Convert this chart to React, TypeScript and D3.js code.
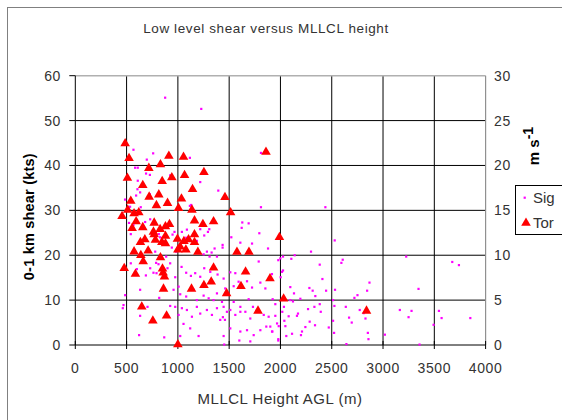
import React from 'react';
import * as d3 from 'd3';

const chartTitle = 'Low level shear versus MLLCL height';
const xTitle = 'MLLCL Height AGL (m)';
const yTitle = '0-1 km shear (kts)';
const xTicks = [0, 500, 1000, 1500, 2000, 2500, 3000, 3500, 4000];
const yTicks = [0, 10, 20, 30, 40, 50, 60];
const y2Ticks = [0, 5, 10, 15, 20, 25, 30];
const seriesNames = ['Sig', 'Tor'];

// [MLLCL height (m), 0-1 km shear (kts)]
const sigData: [number, number][] = [
  [876, 55.1], [1228, 52.6], [567, 43.5], [759, 42.7], [697, 41.3], [1117, 41.7], [583, 39.5], [609, 39.5],
  [690, 38.2], [727, 37.9], [925, 37.8], [609, 36.6], [1218, 36.3], [606, 34.7], [632, 34.0], [593, 33.3],
  [1394, 34.4], [727, 33.6], [1810, 42.8], [485, 32.4], [534, 30.8], [638, 30.7], [1117, 31.0], [1130, 31.2],
  [1810, 30.7],
  [567, 26.7], [524, 27.2], [541, 24.7], [681, 27.4], [730, 28.0], [814, 24.7], [827, 24.0], [948, 24.6],
  [967, 25.2], [1039, 25.2], [1088, 25.7], [1081, 23.9], [1185, 23.2], [1218, 25.8], [1293, 25.2], [1257, 24.4],
  [1306, 25.8], [1628, 27.3], [1690, 27.1], [1622, 26.1], [1521, 24.0], [1609, 22.8], [1723, 22.6], [1794, 24.9],
  [1879, 21.5], [1436, 22.3], [1436, 21.7], [1358, 21.5], [1329, 20.6], [1283, 20.8], [1381, 19.7], [1309, 19.7],
  [1251, 20.2], [941, 21.7], [981, 20.8], [886, 19.7], [779, 20.8], [788, 18.3], [811, 18.0], [626, 20.0],
  [541, 18.2], [600, 16.9], [688, 15.5], [730, 17.1], [762, 16.1], [792, 16.0], [899, 17.1], [925, 18.2],
  [974, 15.1], [1036, 17.4], [1081, 16.1], [1127, 15.4], [1169, 16.0], [1218, 15.2], [1257, 17.1], [1316, 16.3],
  [1387, 15.7], [1446, 14.8], [1462, 12.6], [1511, 16.2], [1560, 16.0], [1592, 14.1], [1544, 13.1], [1674, 14.2],
  [1723, 12.8], [1788, 18.6], [1804, 13.9], [1853, 12.6], [1924, 10.2], [632, 12.3], [818, 10.5], [958, 12.3],
  [1007, 13.0], [1023, 11.3], [1081, 10.8], [1153, 12.3], [1185, 10.0], [1251, 11.0], [1300, 10.4], [1348, 10.0],
  [1381, 11.5], [1430, 9.6], [1446, 8.5], [1544, 9.6], [1609, 8.5], [1690, 10.2], [1732, 8.5], [486, 11.1],
  [463, 8.2], [470, 8.9], [632, 6.5], [704, 8.5], [925, 8.7], [974, 8.5], [1007, 6.7], [1039, 8.2],
  [1088, 7.8], [1137, 6.3], [1185, 8.5], [1218, 7.0], [1283, 7.8], [1332, 6.7], [1381, 8.2], [1413, 5.6],
  [1439, 6.2], [1459, 5.6], [1478, 7.4], [1511, 7.8], [1560, 6.7], [1609, 7.4], [1658, 7.4], [1706, 5.9],
  [1771, 7.8], [1837, 6.7], [1885, 6.3], [622, 2.2], [867, 1.7], [1023, 2.0], [1055, 4.7], [1120, 3.7],
  [1202, 2.0], [1446, 2.0], [1511, 3.7], [1609, 3.0], [1674, 3.3], [1739, 2.2], [1804, 3.3], [1862, 4.1],
  [1918, 3.0], [1967, 4.8],
  [2438, 30.7], [2529, 23.3], [2298, 20.8], [2139, 20.0], [2106, 19.2], [1979, 18.9], [2025, 19.7], [1999, 19.3],
  [2383, 17.9], [2607, 19.0], [2594, 18.3], [2025, 16.6], [2015, 16.3], [1917, 15.8], [2409, 14.7], [2868, 13.9],
  [2002, 15.1], [2096, 12.9], [2282, 12.7], [2314, 12.1], [2445, 12.1], [2532, 12.3], [2132, 11.5], [2194, 10.3],
  [2340, 10.9], [2751, 11.1], [2721, 10.5], [2845, 12.1], [2096, 10.0], [2122, 9.7], [1950, 9.1], [2034, 8.5],
  [2018, 7.4], [2269, 8.0], [2331, 8.5], [2383, 9.1], [2393, 7.4], [2513, 10.0], [2526, 8.7], [2637, 8.5],
  [2773, 7.8], [2829, 5.9], [2812, 7.1], [2669, 6.1], [2695, 5.0], [1950, 6.5], [2080, 6.4], [2171, 7.0],
  [2161, 6.5], [2038, 5.4], [2285, 5.2], [1901, 4.1], [1983, 4.2], [2048, 4.2], [2243, 4.0], [2337, 4.4],
  [2471, 3.9], [2513, 5.4], [1921, 3.0], [2210, 3.0], [2200, 2.2], [2057, 2.0], [2113, 2.5], [1979, 1.3],
  [2523, 2.7], [2643, 0.2], [2852, 2.7], [2858, 1.3], [3018, 2.3], [3164, 7.8], [3278, 7.6], [3249, 6.2],
  [3346, 12.5], [3226, 19.7], [3493, 4.5], [3545, 7.6], [3571, 6.0], [3851, 6.0], [3675, 18.5], [3740, 17.8],
  [3356, 0.1], [1452, 0.1], [1599, 1.0], [1706, 0.8], [1979, 1.0],
];

const torData: [number, number][] = [
  [486, 44.9], [524, 41.6], [912, 42.1], [1055, 41.9], [1859, 43.0], [717, 39.4], [830, 40.2], [1254, 38.5],
  [1065, 37.8], [508, 37.2], [941, 37.3], [847, 36.5], [658, 35.6], [1143, 34.7], [541, 32.1], [720, 33.0],
  [814, 33.5], [1035, 32.6], [1459, 32.9], [791, 31.1], [899, 31.6],
  [456, 28.7], [511, 30.1], [573, 29.3], [619, 29.5], [1006, 30.5], [1137, 30.1], [1514, 29.5], [593, 27.5],
  [554, 26.0], [658, 26.2], [769, 27.2], [827, 25.8], [879, 26.4], [918, 26.9], [762, 25.2], [769, 24.6],
  [781, 23.4], [879, 24.3], [844, 22.9], [879, 22.6], [1162, 27.7], [1244, 26.9], [1348, 27.5], [1162, 24.6],
  [1162, 22.9], [996, 23.6], [1059, 23.1], [1104, 23.5], [1022, 21.9], [1078, 21.2], [1000, 21.2], [635, 22.9],
  [678, 23.5], [573, 20.8], [710, 21.0], [639, 20.0], [662, 18.6], [830, 19.5], [1195, 20.7], [1576, 20.7],
  [1693, 20.7], [477, 17.1], [586, 15.8], [850, 17.0], [856, 16.1], [869, 15.2], [1348, 17.2], [1660, 16.3],
  [1898, 14.8], [860, 12.5], [1133, 12.5], [1254, 13.3], [1325, 14.1], [1615, 13.1], [1475, 11.5], [648, 8.5],
  [890, 6.5], [756, 5.4], [1781, 7.6], [1000, 0.1], [1990, 24.0], [2031, 10.3], [2839, 7.6],
];

const FONT = '"Liberation Sans", Arial, sans-serif';
const SIG_COLOR = '#FF00FF';
const TOR_COLOR = '#FF0000';
const TEXT_COLOR = '#333';

export default function App() {
  const x = d3.scaleLinear().domain([0, 4000]).range([75.3, 485.6]);
  const y = d3.scaleLinear().domain([0, 60]).range([345, 75.7]);
  const y2 = d3.scaleLinear().domain([0, 30]).range([345, 75.7]);
  const tri = d3.symbol(d3.symbolTriangle, 40)() as string;
  const [x0, x1] = x.range();
  const [yb, yt] = y.range();

  return (
    <svg
      width={562}
      height={420}
      style={{ position: 'absolute', left: 0, top: 0, background: '#fff' }}
      fontFamily={FONT}
    >
      <rect x={0} y={0} width={562} height={420} fill="#fff" />
      {/* chart area border */}
      <rect x={7.5} y={7.5} width={620} height={430} fill="none" stroke="#808080" strokeWidth={1} />

      <text x={266} y={33} textAnchor="middle" fontSize={13.5} letterSpacing={0.6} fill={TEXT_COLOR}>
        {chartTitle}
      </text>

      {/* gridlines */}
      {yTicks.filter((t) => t > 0 && t < 60).map((t) => (
        <line key={'gy' + t} x1={x0} x2={x1} y1={y(t)} y2={y(t)} stroke="#000" strokeWidth={1} />
      ))}
      {xTicks.filter((t) => t > 0 && t < 4000).map((t) => (
        <line key={'gx' + t} x1={x(t)} x2={x(t)} y1={yt} y2={yb} stroke="#000" strokeWidth={1} />
      ))}
      {/* plot border top/right */}
      <line x1={x0} x2={x1} y1={yt} y2={yt} stroke="#b0b0b0" strokeWidth={1.5} />
      <line x1={x1} x2={x1} y1={yt} y2={yb} stroke="#909090" strokeWidth={1.2} />

      {/* left axis */}
      <line x1={x0} x2={x0} y1={yt} y2={yb} stroke="#000" strokeWidth={1} />
      {yTicks.map((t) => (
        <g key={'ly' + t}>
          <line x1={x0 - 6} x2={x0} y1={y(t)} y2={y(t)} stroke="#000" strokeWidth={1} />
          <text x={61} y={y(t) + 5} textAnchor="end" fontSize={14} letterSpacing={0.6} fill={TEXT_COLOR}>
            {t}
          </text>
        </g>
      ))}
      {/* bottom axis */}
      <line x1={x0} x2={x1} y1={yb} y2={yb} stroke="#000" strokeWidth={1} />
      {xTicks.map((t) => (
        <g key={'bx' + t}>
          <line x1={x(t)} x2={x(t)} y1={yb - 4} y2={yb + 4} stroke="#000" strokeWidth={1} />
          <text x={x(t)} y={373} textAnchor="middle" fontSize={14} letterSpacing={0.6} fill={TEXT_COLOR}>
            {t}
          </text>
        </g>
      ))}
      {/* right axis labels */}
      {y2Ticks.map((t) => (
        <text key={'ry' + t} x={494} y={y2(t) + 5} textAnchor="start" fontSize={14} letterSpacing={0.6} fill={TEXT_COLOR}>
          {t}
        </text>
      ))}

      {/* axis titles */}
      <text x={280} y={403.5} textAnchor="middle" fontSize={15} letterSpacing={0.5} fill={TEXT_COLOR}>
        {xTitle}
      </text>
      <text
        transform="translate(34,216.7) rotate(-90)"
        textAnchor="middle"
        fontSize={14.5}
        fontWeight="bold"
        letterSpacing={0.2}
        fill="#000"
      >
        {yTitle}
      </text>
      <text transform="translate(538.5,146) rotate(-90)" textAnchor="middle" fontSize={15} fontWeight="bold" fill="#000">
        <tspan>m s</tspan>
        <tspan dy={-6} fontSize={14}>-1</tspan>
      </text>

      {/* data */}
      <g>
        {sigData.map((d, i) => (
          <rect key={'s' + i} x={x(d[0]) - 1.1} y={y(d[1]) - 1.1} width={2.2} height={2.2} fill={SIG_COLOR} />
        ))}
      </g>
      <g>
        {torData.map((d, i) => (
          <path key={'t' + i} d={tri} transform={`translate(${x(d[0])},${y(d[1])})`} fill={TOR_COLOR} />
        ))}
      </g>

      {/* legend */}
      <rect x={515.5} y={185.5} width={60} height={49} fill="#fff" stroke="#000" strokeWidth={1} />
      <rect x={523.6} y={196.6} width={2.2} height={2.2} fill={SIG_COLOR} />
      <text x={533} y={203.3} fontSize={15} fill={TEXT_COLOR}>{seriesNames[0]}</text>
      <path d={tri} transform="translate(526,223)" fill={TOR_COLOR} />
      <text x={533} y={227.5} fontSize={15} fill={TEXT_COLOR}>{seriesNames[1]}</text>
    </svg>
  );
}
